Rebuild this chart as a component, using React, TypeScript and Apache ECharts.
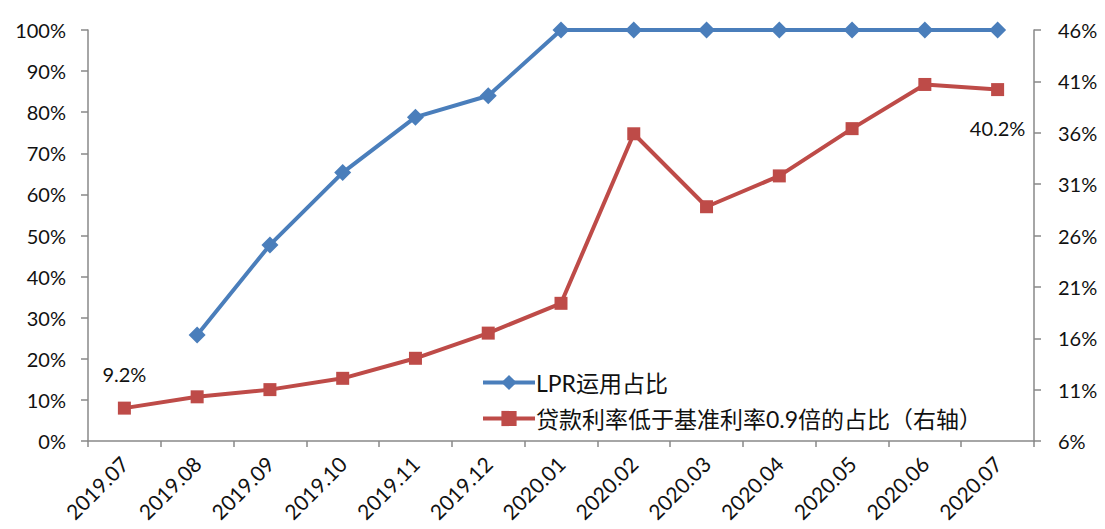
import React, { useEffect, useRef } from "react";
import * as echarts from "echarts";

const categories = ["2019.07", "2019.08", "2019.09", "2019.10", "2019.11", "2019.12", "2020.01", "2020.02", "2020.03", "2020.04", "2020.05", "2020.06", "2020.07"];
const lprShare: (number | null)[] = [null, 25.8, 47.7, 65.3, 78.8, 84.0, 100, 100, 100, 100, 100, 100, 100];
const belowShare: number[] = [9.2, 10.3, 11.0, 12.1, 14.05, 16.5, 19.4, 35.9, 28.8, 31.8, 36.4, 40.7, 40.2];
const leftTicks = { min: 0, max: 100, interval: 10 };
const rightTicks = { min: 6, max: 46, interval: 5 };
const seriesNames = ["LPR运用占比", "贷款利率低于基准利率0.9倍的占比（右轴）"];
const labeledIndices = [0, 12];

const FONT = "Lato, 'Noto Sans CJK SC', sans-serif";
const BLUE = "#4A7EBB";
const RED = "#BE4B48";
const AXIS = "#898989";

export default function App() {
  const ref = useRef<HTMLDivElement>(null);
  useEffect(() => {
    const chart = echarts.init(ref.current!, null, { renderer: "svg" });
    chart.setOption({
      animation: false,
      backgroundColor: "#ffffff",
      textStyle: { fontFamily: FONT },
      grid: { left: 88, right: 71, top: 30, bottom: 88, containLabel: false },
      legend: {
        orient: "vertical",
        left: 476,
        top: 366,
        itemWidth: 52,
        itemHeight: 19,
        itemGap: 13,
        lineStyle: { width: 4 },
        textStyle: { fontSize: 23, color: "#111", fontFamily: FONT, padding: [0, 0, 0, -4] },
        data: seriesNames,
      },
      xAxis: {
        type: "category",
        data: categories,
        boundaryGap: true,
        axisLine: { lineStyle: { color: AXIS, width: 1.5 } },
        axisTick: { show: true, length: 6, lineStyle: { color: AXIS, width: 1.5 } },
        axisLabel: { rotate: 45, fontSize: 21, color: "#111", margin: 19, fontFamily: FONT },
        splitLine: { show: false },
      },
      yAxis: [
        {
          type: "value",
          min: leftTicks.min,
          max: leftTicks.max,
          interval: leftTicks.interval,
          axisLine: { show: true, lineStyle: { color: AXIS, width: 1.5 } },
          axisTick: { show: true, length: 7, lineStyle: { color: AXIS, width: 1.5 } },
          axisLabel: { formatter: "{value}%", fontSize: 20, color: "#111", margin: 22, fontFamily: FONT },
          splitLine: { show: false },
        },
        {
          type: "value",
          min: rightTicks.min,
          max: rightTicks.max,
          interval: rightTicks.interval,
          position: "right",
          axisLine: { show: true, lineStyle: { color: AXIS, width: 1.5 } },
          axisTick: { show: true, length: 7, lineStyle: { color: AXIS, width: 1.5 } },
          axisLabel: { formatter: "{value}%", fontSize: 20, color: "#111", margin: 24, fontFamily: FONT },
          splitLine: { show: false },
        },
      ],
      series: [
        {
          name: seriesNames[0],
          type: "line",
          yAxisIndex: 0,
          data: lprShare,
          symbol: "diamond",
          symbolSize: 17,
          lineStyle: { color: BLUE, width: 4 },
          itemStyle: { color: BLUE },
          connectNulls: false,
        },
        {
          name: seriesNames[1],
          type: "line",
          yAxisIndex: 1,
          symbol: "rect",
          symbolSize: 13,
          lineStyle: { color: RED, width: 4 },
          itemStyle: { color: RED },
          data: belowShare.map((v, i) => {
            if (!labeledIndices.includes(i)) return v;
            return {
              value: v,
              label: {
                show: true,
                position: i === 0 ? "top" : "bottom",
                distance: i === 0 ? 18 : 22,
                formatter: (p: any) => p.value.toFixed(1) + "%",
                fontSize: 20,
                color: "#111",
                fontFamily: FONT,
              },
            };
          }),
        },
      ],
    });
    return () => chart.dispose();
  }, []);
  return <div ref={ref} style={{ position: "fixed", left: 0, top: 0, width: 1105, height: 529 }} />;
}
